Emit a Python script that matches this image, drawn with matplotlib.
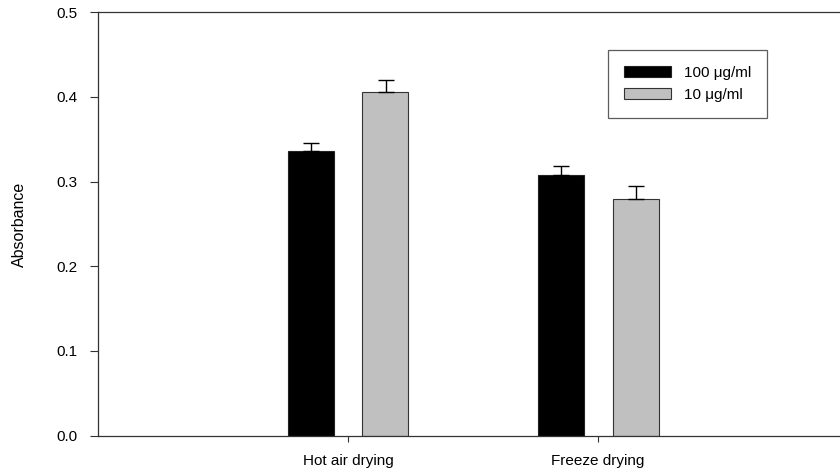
import matplotlib
matplotlib.use("Agg")
import matplotlib.pyplot as plt
import numpy as np

plt.rcParams['font.family'] = ['Liberation Sans', 'DejaVu Sans']

methods = ['Hot air drying', 'Freeze drying']
conc_labels = ['100 \u03bcg/ml', '10 \u03bcg/ml']
abs_100 = [0.336, 0.308]
abs_10 = [0.406, 0.280]
err_100 = [0.010, 0.010]
err_10 = [0.014, 0.015]

fig = plt.figure(figsize=(8.4, 4.72), dpi=100)
ax = fig.add_axes([98 / 840, 1 - 435.7 / 472, 742 / 840, 423.5 / 472])

x = np.arange(1, len(methods) + 1)
w = 0.184
off = 0.15
err_kw = dict(ecolor='black', elinewidth=1.0, capsize=6, capthick=1.0)
ax.bar(x - off, abs_100, w, color='black', edgecolor='#222222', lw=0.8,
       yerr=[np.zeros(2), err_100], error_kw=err_kw, label=conc_labels[0], zorder=2)
ax.bar(x + off, abs_10, w, color='#c0c0c0', edgecolor='#333333', lw=0.8,
       yerr=[np.zeros(2), err_10], error_kw=err_kw, label=conc_labels[1], zorder=2)

ax.set_xlim(0, 2.968)
ax.set_ylim(0, 0.5)
yt = np.arange(0, 0.51, 0.1)
ax.set_yticks(yt)
ax.set_yticklabels([f'{v:.1f}' for v in yt], fontsize=11)
ax.set_xticks(x)
ax.set_xticklabels(methods, fontsize=11)
ax.tick_params(axis='y', direction='out', length=6, width=0.8, color='#333333', pad=9)
ax.tick_params(axis='x', direction='out', length=4, width=0.8, color='#333333', pad=9)
for s in ['left', 'bottom', 'top']:
    ax.spines[s].set_color('#333333')
    ax.spines[s].set_linewidth(0.9)
ax.spines['right'].set_visible(False)

ax.set_ylabel('Absorbance', fontsize=11.5, labelpad=21)

# legend box sits at roughly x 608-788, y 50-117 px in the reference
leg = ax.legend(loc='upper left', bbox_to_anchor=((608 - 98) / 742, (435.7 - 50) / 423.5),
                fontsize=11, frameon=True, fancybox=False, handlelength=3.1, handleheight=0.75,
                borderpad=1.05, labelspacing=0.5, handletextpad=0.8, borderaxespad=0)
leg.get_frame().set_edgecolor('#333333')
leg.get_frame().set_linewidth(0.9)

fig.savefig('out.png', dpi=100)
